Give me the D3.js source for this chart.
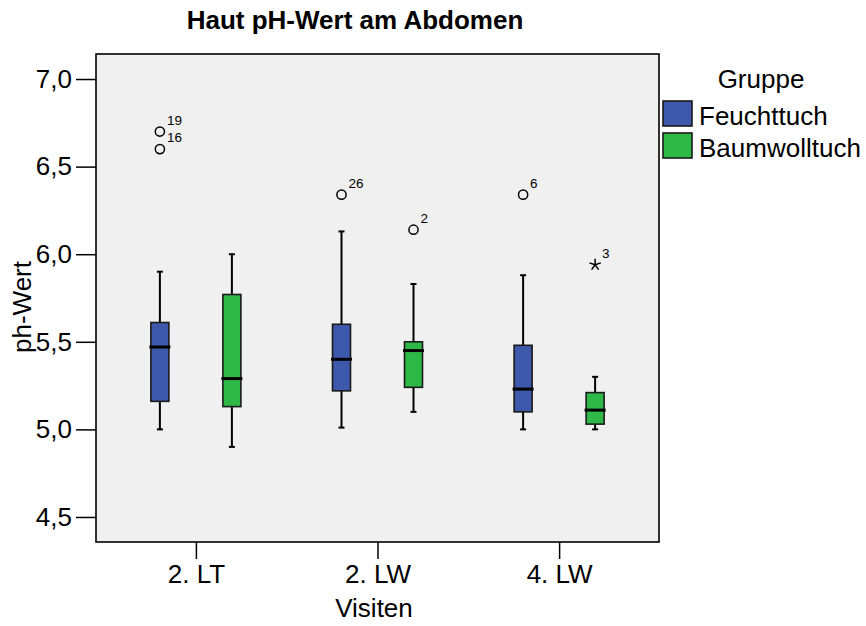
<!DOCTYPE html>
<html>
<head>
<meta charset="utf-8">
<script src="https://cdn.jsdelivr.net/npm/d3@7"></script>
<style>
  html, body { margin: 0; padding: 0; background: #ffffff; }
  svg { display: block; font-family: "Liberation Sans", Arial, sans-serif; }
</style>
</head>
<body>
<svg id="chart" width="866" height="626"></svg>
<script>
// ---------- data ----------
const categories = ["2. LT", "2. LW", "4. LW"];
const groups = ["Feuchttuch", "Baumwolltuch"];
const groupColors = ["#3E58AC", "#2EB848"];

const feuchtMin    = [5.00, 5.01, 5.00];
const feuchtQ1     = [5.16, 5.22, 5.10];
const feuchtMedian = [5.47, 5.40, 5.23];
const feuchtQ3     = [5.61, 5.60, 5.48];
const feuchtMax    = [5.90, 6.13, 5.88];

const baumMin    = [4.90, 5.10, 5.00];
const baumQ1     = [5.13, 5.24, 5.03];
const baumMedian = [5.29, 5.45, 5.11];
const baumQ3     = [5.77, 5.50, 5.21];
const baumMax    = [6.00, 5.83, 5.30];

const outlierCategory = ["2. LT", "2. LT", "2. LW", "2. LW", "4. LW", "4. LW"];
const outlierGroup    = ["Feuchttuch", "Feuchttuch", "Feuchttuch", "Baumwolltuch", "Feuchttuch", "Baumwolltuch"];
const outlierValue    = [6.70, 6.60, 6.34, 6.14, 6.34, 5.94];
const outlierLabel    = ["19", "16", "26", "2", "6", "3"];
const outlierKind     = ["circle", "circle", "circle", "circle", "circle", "star"];

const yTicks = [4.5, 5.0, 5.5, 6.0, 6.5, 7.0];
const yTickLabels = ["4,5", "5,0", "5,5", "6,0", "6,5", "7,0"];

const title = "Haut pH-Wert am Abdomen";
const xTitle = "Visiten";
const yTitle = "ph-Wert";
const legendTitle = "Gruppe";

// ---------- build ----------
const stats = [
  { min: feuchtMin, q1: feuchtQ1, med: feuchtMedian, q3: feuchtQ3, max: feuchtMax },
  { min: baumMin, q1: baumQ1, med: baumMedian, q3: baumQ3, max: baumMax }
];
const boxes = [];
groups.forEach((g, gi) => {
  categories.forEach((c, ci) => {
    boxes.push({
      cat: c, group: g, color: groupColors[gi],
      min: stats[gi].min[ci], q1: stats[gi].q1[ci], med: stats[gi].med[ci],
      q3: stats[gi].q3[ci], max: stats[gi].max[ci]
    });
  });
});
const outliers = outlierValue.map((v, i) => ({
  cat: outlierCategory[i], group: outlierGroup[i], value: v,
  label: outlierLabel[i], kind: outlierKind[i]
}));

const plot = { left: 96, right: 659, top: 54, bottom: 542 };
const FS = 26;

const svg = d3.select("#chart");

const x = d3.scalePoint().domain(categories).range([plot.left, plot.right]).padding(0.55);
const xg = d3.scalePoint().domain(groups).range([-36, 36]);
const y = d3.scaleLinear().domain([4.5 - 25 / 175, 7.0 + 25 / 175]).range([plot.bottom, plot.top]);

// plot background
svg.append("rect")
  .attr("x", plot.left).attr("y", plot.top)
  .attr("width", plot.right - plot.left).attr("height", plot.bottom - plot.top)
  .attr("fill", "#F0F0F0");

// title
svg.append("text")
  .attr("x", 355).attr("y", 29)
  .attr("text-anchor", "middle")
  .attr("font-size", FS).attr("font-weight", "bold")
  .attr("fill", "#000")
  .text(title);

// y axis
const yAxis = d3.axisLeft(y).tickValues(yTicks).tickSize(20).tickPadding(4)
  .tickFormat(d => yTickLabels[yTicks.indexOf(d)]);
const yAxisG = svg.append("g").attr("transform", `translate(${plot.left},0)`).call(yAxis);
yAxisG.select(".domain").remove();
yAxisG.selectAll(".tick line").attr("stroke", "#000").attr("stroke-width", 1.5);
yAxisG.selectAll(".tick text").attr("font-size", FS).attr("fill", "#000")
  .attr("font-family", "'Liberation Sans', Arial, sans-serif");

// x axis
const xAxis = d3.axisBottom(x).tickSize(17).tickPadding(6);
const xAxisG = svg.append("g").attr("transform", `translate(0,${plot.bottom})`).call(xAxis);
xAxisG.select(".domain").remove();
xAxisG.selectAll(".tick line").attr("stroke", "#000").attr("stroke-width", 1.5);
xAxisG.selectAll(".tick text").attr("font-size", FS).attr("fill", "#000")
  .attr("font-family", "'Liberation Sans', Arial, sans-serif");

// axis titles
svg.append("text")
  .attr("x", 374).attr("y", 617)
  .attr("text-anchor", "middle").attr("font-size", FS).attr("fill", "#000")
  .text(xTitle);
svg.append("text")
  .attr("transform", `translate(31,${(plot.top + plot.bottom) / 2 + 9}) rotate(-90)`)
  .attr("text-anchor", "middle").attr("font-size", FS).attr("fill", "#000")
  .text(yTitle);

// boxes
const boxW = 18, capW = 6;
const bg = svg.append("g");
const bx = d => x(d.cat) + xg(d.group);

bg.selectAll(".whisker").data(boxes).join("line")
  .attr("x1", bx).attr("x2", bx)
  .attr("y1", d => y(d.max)).attr("y2", d => y(d.min))
  .attr("stroke", "#000").attr("stroke-width", 2);
bg.selectAll(".capTop").data(boxes).join("line")
  .attr("x1", d => bx(d) - capW / 2).attr("x2", d => bx(d) + capW / 2)
  .attr("y1", d => y(d.max)).attr("y2", d => y(d.max))
  .attr("stroke", "#000").attr("stroke-width", 2);
bg.selectAll(".capBot").data(boxes).join("line")
  .attr("x1", d => bx(d) - capW / 2).attr("x2", d => bx(d) + capW / 2)
  .attr("y1", d => y(d.min)).attr("y2", d => y(d.min))
  .attr("stroke", "#000").attr("stroke-width", 2);
bg.selectAll(".box").data(boxes).join("rect")
  .attr("x", d => bx(d) - boxW / 2).attr("width", boxW)
  .attr("y", d => y(d.q3)).attr("height", d => y(d.q1) - y(d.q3))
  .attr("fill", d => d.color)
  .attr("stroke", "#1a1a1a").attr("stroke-width", 1.6);
bg.selectAll(".median").data(boxes).join("line")
  .attr("x1", d => bx(d) - boxW / 2 - 1.5).attr("x2", d => bx(d) + boxW / 2 + 1.5)
  .attr("y1", d => y(d.med)).attr("y2", d => y(d.med))
  .attr("stroke", "#000").attr("stroke-width", 3);

// outliers
const og = svg.append("g");
const ox = d => x(d.cat) + xg(d.group);
og.selectAll(".oc").data(outliers.filter(d => d.kind === "circle")).join("circle")
  .attr("cx", ox).attr("cy", d => y(d.value)).attr("r", 4.6)
  .attr("fill", "none").attr("stroke", "#000").attr("stroke-width", 1.5);
const starArms = [0, 72, 144, 216, 288];
og.selectAll(".os").data(outliers.filter(d => d.kind === "star")).join("g")
  .attr("transform", d => `translate(${ox(d)},${y(d.value)})`)
  .selectAll("line").data(starArms).join("line")
  .attr("x1", 0).attr("y1", 0)
  .attr("x2", a => 6 * Math.sin(a * Math.PI / 180))
  .attr("y2", a => -6 * Math.cos(a * Math.PI / 180))
  .attr("stroke", "#000").attr("stroke-width", 1.5);
og.selectAll(".ol").data(outliers).join("text")
  .attr("x", d => ox(d) + 7).attr("y", d => y(d.value) - 7)
  .attr("font-size", 13.5).attr("fill", "#000")
  .text(d => d.label);

// frame
svg.append("rect")
  .attr("x", plot.left).attr("y", plot.top)
  .attr("width", plot.right - plot.left).attr("height", plot.bottom - plot.top)
  .attr("fill", "none").attr("stroke", "#000").attr("stroke-width", 1.6);

// legend
const lg = svg.append("g");
lg.append("text").attr("x", 761).attr("y", 88).attr("text-anchor", "middle")
  .attr("font-size", FS).attr("fill", "#000").text(legendTitle);
const li = lg.selectAll(".li").data(groups).join("g")
  .attr("transform", (d, i) => `translate(663,${101 + i * 32})`);
li.append("rect").attr("width", 29).attr("height", 25)
  .attr("fill", (d, i) => groupColors[i]).attr("stroke", "#1a1a1a").attr("stroke-width", 1.6);
li.append("text").attr("x", 36).attr("y", 24)
  .attr("font-size", FS).attr("fill", "#000").text(d => d);
</script>
</body>
</html>
